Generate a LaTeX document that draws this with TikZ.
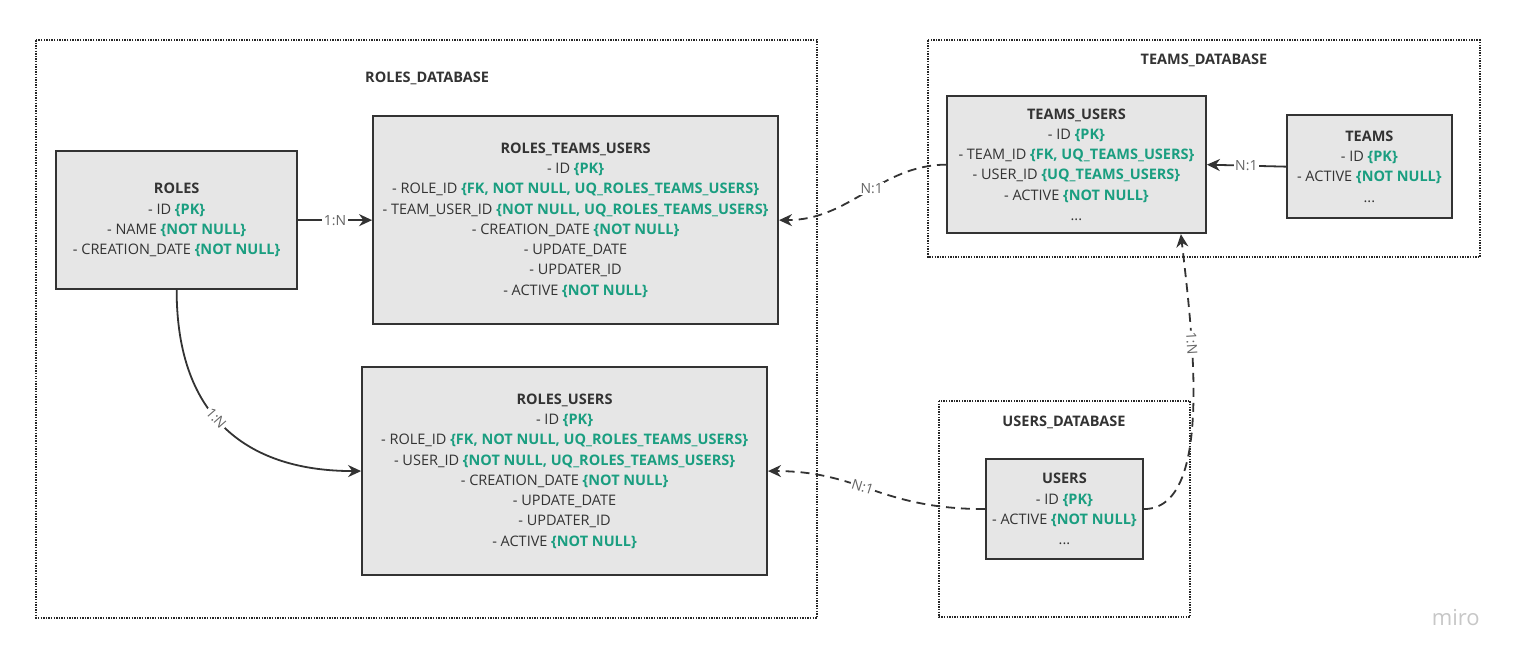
\documentclass[tikz,border=0pt]{standalone}
\usepackage{fontspec}
\setmainfont{Open Sans}
\usepackage{xcolor}
\usepackage{tikz}
\usetikzlibrary{calc}
\usetikzlibrary{arrows.meta}

\definecolor{keygreen}{HTML}{1A9E80}
\definecolor{boxgray}{HTML}{E6E6E6}
\definecolor{inkgray}{HTML}{333333}
\definecolor{labelgray}{HTML}{666666}
\newcommand{\keyattr}[1]{{\bfseries\color{keygreen}\{#1\}}}

\tikzset{
  table/.style={draw=inkgray, fill=boxgray, line width=2pt, align=center, text=inkgray,
    font=\fontsize{14.5}{20.3}\selectfont, inner sep=0pt},
  dbframe/.style={draw=black!85, line width=1.4pt, dash pattern=on 1.4pt off 1.2pt},
  dbtitle/.style={text=inkgray, font=\fontsize{14.5}{17}\selectfont\bfseries},
  link/.style={draw=inkgray, line width=1.8pt, -{Stealth[length=13pt,width=12pt]}},
  dashlink/.style={link, dash pattern=on 9pt off 6pt},
  card/.style={fill=white, text=labelgray, inner sep=1.5pt, font=\fontsize{14}{16}\selectfont}
}

\begin{document}
\begin{tikzpicture}[x=1pt,y=1pt]
\filldraw[color=white] (0,0) rectangle (1515,-660);
% Drawing database frames
\draw[dbframe] (36,-40) rectangle (817,-618);
\node[dbtitle] (rolesdb) at (427,-78) {ROLES\_DATABASE};
\draw[dbframe] (928,-40) rectangle (1480,-257);
\node[dbtitle] (teamsdb) at (1204,-60) {TEAMS\_DATABASE};
\draw[dbframe] (939,-401) rectangle (1190,-617);
\node[dbtitle] (usersdb) at (1064,-422) {USERS\_DATABASE};
% Done with frames; drawing tables
\node[table, minimum width=241pt, minimum height=138pt] (roles) at (176.5,-220) {%
  \textbf{ROLES}\\
  - ID \keyattr{PK}\\
  - NAME \keyattr{NOT NULL}\\
  - CREATION\_DATE \keyattr{NOT NULL}};
\node[table, minimum width=405pt, minimum height=208pt] (rolesteamsusers) at (575.5,-220) {%
  \textbf{ROLES\_TEAMS\_USERS}\\
  - ID \keyattr{PK}\\
  - ROLE\_ID \keyattr{FK, NOT NULL, UQ\_ROLES\_TEAMS\_USERS}\\
  - TEAM\_USER\_ID \keyattr{NOT NULL, UQ\_ROLES\_TEAMS\_USERS}\\
  - CREATION\_DATE \keyattr{NOT NULL}\\
  - UPDATE\_DATE\\
  - UPDATER\_ID\\
  - ACTIVE \keyattr{NOT NULL}};
\node[table, minimum width=405pt, minimum height=208pt] (rolesusers) at (564.5,-471) {%
  \textbf{ROLES\_USERS}\\
  - ID \keyattr{PK}\\
  - ROLE\_ID \keyattr{FK, NOT NULL, UQ\_ROLES\_TEAMS\_USERS}\\
  - USER\_ID \keyattr{NOT NULL, UQ\_ROLES\_TEAMS\_USERS}\\
  - CREATION\_DATE \keyattr{NOT NULL}\\
  - UPDATE\_DATE\\
  - UPDATER\_ID\\
  - ACTIVE \keyattr{NOT NULL}};
\node[table, minimum width=259pt, minimum height=137pt] (teamsusers) at (1076.5,-164.5) {%
  \textbf{TEAMS\_USERS}\\
  - ID \keyattr{PK}\\
  - TEAM\_ID \keyattr{FK, UQ\_TEAMS\_USERS}\\
  - USER\_ID \keyattr{UQ\_TEAMS\_USERS}\\
  - ACTIVE \keyattr{NOT NULL}\\
  ...};
\node[table, minimum width=165pt, minimum height=103pt] (teams) at (1369.5,-166.5) {%
  \textbf{TEAMS}\\
  - ID \keyattr{PK}\\
  - ACTIVE \keyattr{NOT NULL}\\
  ...};
\node[table, minimum width=157pt, minimum height=100pt] (users) at (1064.5,-509) {%
  \textbf{USERS}\\
  - ID \keyattr{PK}\\
  - ACTIVE \keyattr{NOT NULL}\\
  ...};
% Done with tables; drawing relations
\draw[link] (roles.east) -- node[card] {1:N} (rolesteamsusers.west);
\draw[link] (roles.south) .. controls (176.5,-420) and (250,-471) .. node[card, sloped, pos=0.44] {1:N} (rolesusers.west);
\draw[dashlink] (teamsusers.west) .. controls (880,-165) and (850,-220) .. node[card, pos=0.45] {N:1} (rolesteamsusers.east);
\draw[link] (teams.west) -- node[card] {N:1} (teamsusers.east);
\draw[dashlink] (users.west) .. controls (880,-509) and (860,-471) .. node[card, sloped, pos=0.55] {N:1} (rolesusers.east);
\draw[dashlink] (users.east) .. controls (1215,-509) and (1192,-330) .. node[card, sloped, pos=0.68] {1:N} ([xshift=-26pt]teamsusers.south east);
% Done with relations
\node[text=black!22, font=\fontsize{22}{24}\selectfont] (mirologo) at (1456,-617) {miro};
\end{tikzpicture}
\end{document}
